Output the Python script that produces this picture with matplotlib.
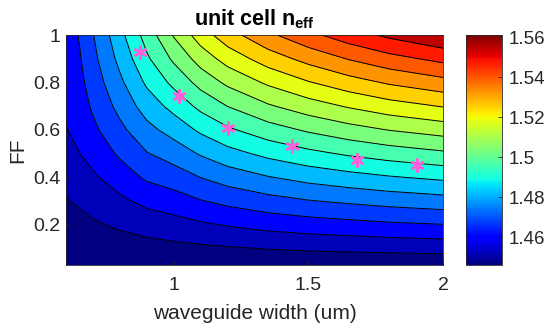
import numpy as np
import matplotlib
matplotlib.use('Agg')
import matplotlib.pyplot as plt
from matplotlib import cm, colors

plt.rcParams['font.family'] = ['Liberation Sans', 'DejaVu Sans']
plt.rcParams['mathtext.fontset'] = 'custom'
plt.rcParams['mathtext.rm'] = 'Liberation Sans'
plt.rcParams['mathtext.bf'] = 'Liberation Sans:bold'

# waveguide width (um) and fill factor grid
widths = [0.6, 0.65, 0.7, 0.8, 0.9, 1.0, 1.1, 1.2, 1.35, 1.5, 1.65, 1.8, 2.0]
fill_factor = [0.03, 0.1, 0.2, 0.3, 0.4, 0.5, 0.6, 0.7, 0.8, 0.9, 1.0]

# n_eff, one row per width, values along fill_factor
n_eff_by_width = [
    [1.4461, 1.4476, 1.4497, 1.4518, 1.4543, 1.4568, 1.4593, 1.4608, 1.4619, 1.4627, 1.4633],
    [1.4462, 1.4479, 1.4504, 1.4532, 1.4564, 1.4595, 1.4616, 1.4634, 1.4649, 1.4662, 1.4674],
    [1.4462, 1.4484, 1.4514, 1.4549, 1.4585, 1.4622, 1.4653, 1.4680, 1.4702, 1.4722, 1.4738],
    [1.4463, 1.4491, 1.4533, 1.4581, 1.4633, 1.4680, 1.4724, 1.4764, 1.4800, 1.4835, 1.4865],
    [1.4464, 1.4497, 1.4552, 1.4616, 1.4680, 1.4738, 1.4793, 1.4848, 1.4900, 1.4949, 1.4991],
    [1.4465, 1.4504, 1.4568, 1.4636, 1.4706, 1.4774, 1.4843, 1.4911, 1.4979, 1.5047, 1.5113],
    [1.4466, 1.4510, 1.4586, 1.4665, 1.4743, 1.4822, 1.4901, 1.4980, 1.5059, 1.5138, 1.5216],
    [1.4466, 1.4516, 1.4601, 1.4688, 1.4775, 1.4862, 1.4949, 1.5035, 1.5122, 1.5209, 1.5295],
    [1.4467, 1.4526, 1.4621, 1.4716, 1.4811, 1.4907, 1.5002, 1.5098, 1.5192, 1.5288, 1.5383],
    [1.4467, 1.4533, 1.4635, 1.4738, 1.4840, 1.4942, 1.5044, 1.5146, 1.5248, 1.5350, 1.5452],
    [1.4468, 1.4538, 1.4646, 1.4754, 1.4862, 1.4971, 1.5079, 1.5187, 1.5295, 1.5403, 1.5511],
    [1.4468, 1.4543, 1.4657, 1.4769, 1.4882, 1.4995, 1.5109, 1.5222, 1.5335, 1.5447, 1.5560],
    [1.4468, 1.4549, 1.4667, 1.4785, 1.4903, 1.5021, 1.5138, 1.5257, 1.5374, 1.5492, 1.5611],
]

# contour levels
contour_levels = [1.4523, 1.4596, 1.4669, 1.4742, 1.4815, 1.4888, 1.4961, 1.5034,
                  1.5107, 1.5180, 1.5253, 1.5326, 1.5399, 1.5472, 1.5545]

# design points (stars)
star_w = [0.875, 1.02, 1.20, 1.44, 1.68, 1.905]
star_ff = [0.928, 0.742, 0.607, 0.53, 0.475, 0.45]

W, F = np.meshgrid(widths, fill_factor)
N = np.array(n_eff_by_width).T
zmin, zmax = N.min(), N.max()

fig = plt.figure(figsize=(5.5, 3.31), dpi=100)
ax = fig.add_axes([0.12, 0.1994, 0.6855, 0.6946])

norm = colors.Normalize(vmin=zmin, vmax=zmax)
cmap = plt.get_cmap('jet')
bounds = [zmin] + contour_levels + [zmax + 1e-6]
band_colors = [cmap(norm(b)) for b in bounds[:-1]]  # MATLAB style: lower level colour

ax.contourf(W, F, N, levels=bounds, colors=band_colors)
ax.contour(W, F, N, levels=contour_levels, colors='k', linewidths=0.7)

ax.plot(star_w, star_ff, linestyle='none', marker=(6, 2, 0), markersize=10,
        markeredgewidth=1.8, color='#ff5fd8')

txt = '#262626'
ax.set_xlim(0.6, 2.0)
ax.set_ylim(0.03, 1.0)
ax.set_xticks([1, 1.5, 2])
ax.set_xticklabels(['1', '1.5', '2'])
ax.set_yticks([0.2, 0.4, 0.6, 0.8, 1.0])
ax.set_yticklabels(['0.2', '0.4', '0.6', '0.8', '1'])
ax.tick_params(direction='in', length=3, width=0.6, labelsize=14, colors=txt)
ax.tick_params(axis='x', pad=9)
ax.tick_params(axis='y', pad=4)
for s in ax.spines.values():
    s.set_color(txt)
    s.set_linewidth(0.6)
ax.set_xlabel('waveguide width (um)', fontsize=15, color=txt, labelpad=7)
ax.set_ylabel('FF', fontsize=15, color=txt, labelpad=4)
ax.set_title(r'unit cell n$_{\mathbf{eff}}$', fontsize=15.5, fontweight='bold', pad=7)

cax = fig.add_axes([0.847, 0.1994, 0.066, 0.6946])
sm = cm.ScalarMappable(norm=norm, cmap=cmap)
cb = fig.colorbar(sm, cax=cax)
cb.set_ticks([1.46, 1.48, 1.5, 1.52, 1.54, 1.56])
cb.set_ticklabels(['1.46', '1.48', '1.5', '1.52', '1.54', '1.56'])
cb.ax.tick_params(direction='in', length=3, width=0.6, labelsize=13.5, colors=txt, pad=5)
cb.outline.set_edgecolor(txt)
cb.outline.set_linewidth(0.6)

fig.savefig('out.png', dpi=100)
